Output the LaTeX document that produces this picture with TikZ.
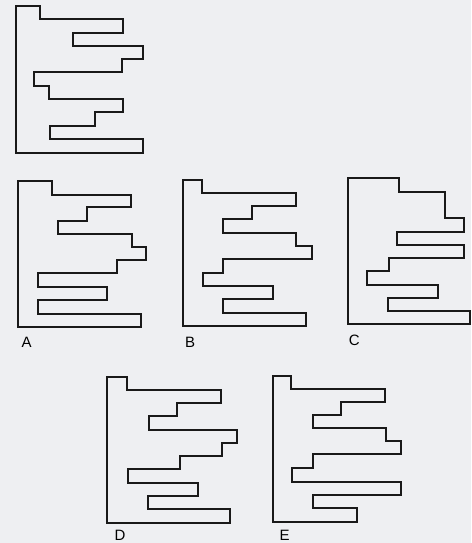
\documentclass[tikz,border=0pt]{standalone}
\usepackage{fontspec}
\setmainfont{Liberation Sans}
\definecolor{paper}{RGB}{238,239,242}
\begin{document}
\begin{tikzpicture}[x=1pt,y=-1pt,
  fig/.style={draw=black!90,line width=1.5pt,line join=miter},
  lab/.style={font=\fontsize{15}{17}\selectfont,inner sep=0pt,anchor=center}]
\fill[paper] (0,0) rectangle (471,543);
\useasboundingbox (0,0) rectangle (471,543);
% top figure
\draw[fig] (16,6) -- (40,6) -- (40,19) -- (123,19) -- (123,33) -- (73,33) -- (73,46) -- (143,46) -- (143,59) -- (122,59) -- (122,72) -- (34,72) -- (34,86) -- (49,86) -- (49,99) -- (123,99) -- (123,112) -- (95,112) -- (95,126) -- (50,126) -- (50,139) -- (143,139) -- (143,153) -- (16,153) -- cycle;
% A
\draw[fig] (18,181) -- (52,181) -- (52,195) -- (131,195) -- (131,207) -- (87,207) -- (87,221) -- (58,221) -- (58,234) -- (132,234) -- (132,247) -- (146,247) -- (146,260) -- (117,260) -- (117,273) -- (38,273) -- (38,287) -- (107,287) -- (107,300) -- (38,300) -- (38,314) -- (141,314) -- (141,327) -- (18,327) -- cycle;
% B
\draw[fig] (183,180) -- (202,180) -- (202,193) -- (296,193) -- (296,206) -- (252,206) -- (252,219) -- (223,219) -- (223,233) -- (296,233) -- (296,246) -- (312,246) -- (312,259) -- (223,259) -- (223,273) -- (203,273) -- (203,286) -- (273,286) -- (273,299) -- (223,299) -- (223,313) -- (306,313) -- (306,326) -- (183,326) -- cycle;
% C
\draw[fig] (348,178) -- (399,178) -- (399,192) -- (445,192) -- (445,218) -- (464,218) -- (464,232) -- (397,232) -- (397,245) -- (464,245) -- (464,258) -- (389,258) -- (389,271) -- (367,271) -- (367,285) -- (438,285) -- (438,298) -- (388,298) -- (388,311) -- (470,311) -- (470,324) -- (348,324) -- cycle;
% D
\draw[fig] (107,377) -- (127,377) -- (127,390) -- (221,390) -- (221,403) -- (177,403) -- (177,416) -- (149,416) -- (149,430) -- (237,430) -- (237,443) -- (222,443) -- (222,456) -- (180,456) -- (180,469) -- (128,469) -- (128,483) -- (198,483) -- (198,496) -- (148,496) -- (148,509) -- (230,509) -- (230,523) -- (107,523) -- cycle;
% E
\draw[fig] (273,376) -- (291,376) -- (291,389) -- (385,389) -- (385,402) -- (341,402) -- (341,415) -- (313,415) -- (313,428) -- (386,428) -- (386,441) -- (401,441) -- (401,454) -- (313,454) -- (313,468) -- (292,468) -- (292,482) -- (401,482) -- (401,495) -- (313,495) -- (313,508) -- (357,508) -- (357,522) -- (273,522) -- cycle;
% labels
\node[lab] (labA) at (26.7,342.5) {A};
\node[lab] (labB) at (190,342) {B};
\node[lab] (labC) at (354.3,340.7) {C};
\node[lab] (labD) at (120,535.5) {D};
\node[lab] (labE) at (284.5,535.5) {E};
\end{tikzpicture}
\end{document}
